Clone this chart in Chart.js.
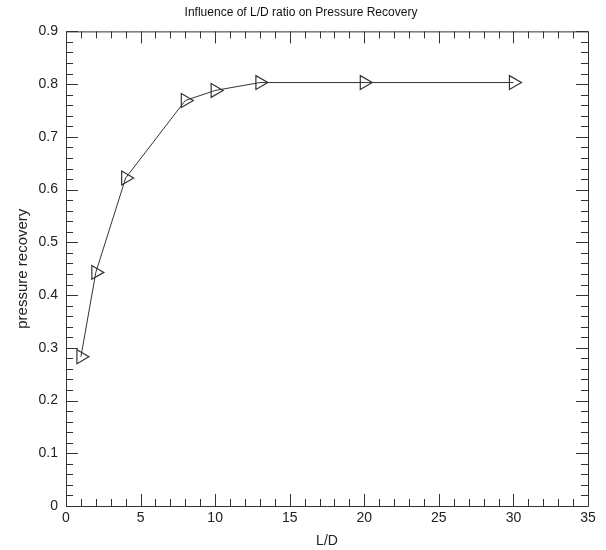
<!DOCTYPE html>
<html>
<head>
<meta charset="utf-8">
<script src="https://cdn.jsdelivr.net/npm/chart.js@4"></script>
<style>
  body { margin: 0; background: #fff; }
  #wrap { width: 606px; height: 550px; }
</style>
</head>
<body>
<div id="wrap"><canvas id="myChart"></canvas></div>
<script>
// L/D ratio vs pressure recovery
const ldRatio = [1, 2, 4, 8, 10, 13, 20, 30];
const pressureRecovery = [0.283, 0.443, 0.622, 0.769, 0.788, 0.803, 0.803, 0.803];

const FONT = "'Liberation Sans Narrow', 'Arial Narrow', 'Liberation Sans', Arial, sans-serif";

// draws the box and the inward ticks on all four sides
const frameTicks = {
  id: "frameTicks",
  beforeDatasetsDraw(chart) {
    const ctx = chart.ctx;
    const a = chart.chartArea;
    const x = chart.scales.x, y = chart.scales.y;
    ctx.save();
    ctx.strokeStyle = "#333";
    ctx.lineWidth = 1;
    ctx.beginPath();
    ctx.rect(a.left + 0.5, a.top + 0.5, a.right - a.left, a.bottom - a.top);
    ctx.stroke();
    ctx.beginPath();
    for (let v = 0; v <= 35; v += 1) {
      let px = Math.round(x.getPixelForValue(v)) + 0.5;
      let len = v % 5 == 0 ? 12 : 7;
      ctx.moveTo(px, a.bottom); ctx.lineTo(px, a.bottom - len);
      ctx.moveTo(px, a.top); ctx.lineTo(px, a.top + len);
    }
    for (let i = 0; i <= 45; i++) {
      let py = Math.round(y.getPixelForValue(i * 0.02)) + 0.5;
      let len = i % 5 == 0 ? 12 : 7;
      ctx.moveTo(a.left, py); ctx.lineTo(a.left + len, py);
      ctx.moveTo(a.right, py); ctx.lineTo(a.right - len, py);
    }
    ctx.stroke();
    ctx.restore();
  }
};

const ctx = document.getElementById("myChart").getContext("2d");
const myChart = new Chart(ctx, {
  type: "scatter",
  data: {
    datasets: [{
      data: ldRatio.map((v, i) => ({ x: v, y: pressureRecovery[i] })),
      showLine: true,
      borderColor: "#333",
      borderWidth: 1,
      pointStyle: "triangle",
      rotation: 90,
      radius: 8,
      hoverRadius: 8,
      pointBorderColor: "#333",
      pointBorderWidth: 1.2,
      pointBackgroundColor: "rgba(255,255,255,0)"
    }]
  },
  options: {
    responsive: true,
    maintainAspectRatio: false,
    animation: false,
    layout: { padding: { left: 14, right: 18, top: 0, bottom: 0 } },
    plugins: {
      legend: { display: false },
      tooltip: { enabled: false },
      title: {
        display: true,
        text: "Influence of L/D ratio on Pressure Recovery",
        color: "#111",
        font: { family: FONT, size: 12, weight: "normal" },
        padding: { top: 5, bottom: 12 }
      }
    },
    scales: {
      x: {
        type: "linear",
        min: 0, max: 35,
        grid: { display: false, drawTicks: false },
        border: { display: false },
        ticks: { stepSize: 5, color: "#222", padding: 4, font: { family: FONT, size: 14 } },
        title: { display: true, text: "L/D", color: "#222", padding: 0, font: { family: FONT, size: 14 } },
        afterFit(s) { s.height = 44; }
      },
      y: {
        min: 0, max: 0.9,
        grid: { display: false, drawTicks: false },
        border: { display: false },
        ticks: {
          stepSize: 0.1, color: "#222", padding: 8, font: { family: FONT, size: 14 },
          callback: (v) => Number(v.toFixed(1)).toString()
        },
        title: { display: true, text: "pressure recovery", color: "#222", padding: 0, font: { family: FONT, size: 15 } },
        afterFit(s) { s.width = 52; }
      }
    }
  },
  plugins: [frameTicks]
});
</script>
</body>
</html>
